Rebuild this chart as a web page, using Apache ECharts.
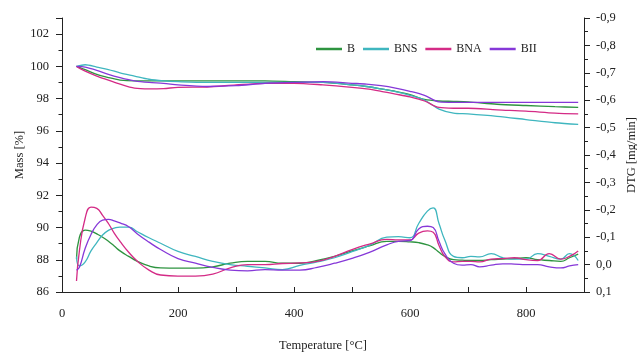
<!DOCTYPE html>
<html><head><meta charset="utf-8">
<script src="https://cdn.jsdelivr.net/npm/echarts@6/dist/echarts.min.js"></script>
<style>html,body{margin:0;padding:0;background:#fff}#c{width:637px;height:353px}</style>
</head><body><div id="c"></div>
<script>
// ---- data ----
const seriesNames = ['B', 'BNS', 'BNA', 'BII'];
const xTickLabels = [0, 200, 400, 600, 800];

// TG (mass %) temperature grid
const tgT = [25, 40, 60, 80, 100, 125, 150, 175, 200, 250, 300, 350, 400, 450, 500, 525, 550, 575, 600, 625, 650, 675, 700, 750, 800, 850, 890];
const tgB   = [100, 99.8, 99.5, 99.3, 99.15, 99.1, 99.1, 99.1, 99.1, 99.1, 99.1, 99.1, 99.05, 99.0, 98.85, 98.75, 98.6, 98.45, 98.25, 97.95, 97.85, 97.83, 97.8, 97.65, 97.57, 97.5, 97.45];
const tgBNS = [100, 100.1, 99.95, 99.8, 99.6, 99.4, 99.2, 99.1, 99.05, 99.0, 99.0, 99.0, 99.0, 99.0, 98.85, 98.75, 98.6, 98.43, 98.2, 97.9, 97.35, 97.1, 97.05, 96.9, 96.7, 96.5, 96.4];
const tgBNA = [100, 99.7, 99.4, 99.15, 98.9, 98.65, 98.6, 98.62, 98.7, 98.72, 98.85, 98.95, 98.95, 98.85, 98.7, 98.6, 98.45, 98.28, 98.1, 97.85, 97.45, 97.4, 97.4, 97.3, 97.22, 97.1, 97.05];
const tgBII = [100, 99.95, 99.75, 99.5, 99.3, 99.1, 99.0, 98.95, 98.85, 98.75, 98.8, 98.95, 99.0, 99.05, 98.95, 98.9, 98.8, 98.65, 98.45, 98.2, 97.8, 97.77, 97.77, 97.77, 97.77, 97.77, 97.77];

// DTG (mg/min) temperature grid
const dtgT = [25, 30, 40, 50, 60, 70, 80, 90, 100, 115, 130, 150, 170, 200, 230, 260, 290, 320, 350, 380, 410, 440, 470, 500, 530, 560, 580, 600, 615, 630, 640, 650, 660, 675, 690, 705, 720, 740, 760, 780, 800, 820, 840, 860, 875, 890];
const dtgB   = [-0.02, -0.10, -0.126, -0.122, -0.112, -0.10, -0.085, -0.068, -0.05, -0.03, -0.012, 0.005, 0.012, 0.013, 0.013, 0.008, -0.005, -0.012, -0.012, -0.005, -0.005, -0.015, -0.03, -0.05, -0.068, -0.085, -0.085, -0.083, -0.08, -0.072, -0.062, -0.045, -0.03, -0.018, -0.016, -0.015, -0.015, -0.018, -0.02, -0.022, -0.025, -0.018, -0.015, -0.012, -0.025, -0.038];
const dtgBNS = [-0.03, 0.005, -0.01, -0.05, -0.08, -0.108, -0.125, -0.133, -0.137, -0.137, -0.12, -0.098, -0.078, -0.048, -0.03, -0.012, 0.0, 0.006, 0.012, 0.018, 0.003, -0.01, -0.025, -0.047, -0.07, -0.1, -0.102, -0.098, -0.15, -0.195, -0.207, -0.15, -0.09, -0.03, -0.025, -0.03, -0.028, -0.04, -0.025, -0.02, -0.02, -0.04, -0.03, -0.02, -0.04, -0.015];
const dtgBNA = [0.06, -0.05, -0.17, -0.21, -0.205, -0.18, -0.15, -0.115, -0.085, -0.045, -0.012, 0.02, 0.038, 0.042, 0.042, 0.035, 0.012, 0.0, 0.0, -0.004, -0.006, -0.012, -0.03, -0.055, -0.075, -0.092, -0.09, -0.09, -0.115, -0.123, -0.118, -0.07, -0.03, -0.01, -0.012, -0.012, -0.01, -0.02, -0.022, -0.025, -0.018, -0.015, -0.04, -0.02, -0.03, -0.05];
const dtgBII = [0.02, 0.01, -0.06, -0.11, -0.145, -0.162, -0.165, -0.16, -0.152, -0.138, -0.112, -0.082, -0.055, -0.022, -0.005, 0.01, 0.02, 0.023, 0.018, 0.02, 0.02, 0.01, -0.005, -0.023, -0.045, -0.072, -0.085, -0.088, -0.13, -0.14, -0.135, -0.085, -0.04, -0.005, 0.002, 0.0, 0.008, 0.002, -0.003, -0.002, 0.0, 0.0, 0.008, 0.012, 0.005, 0.0];

// ---- build ----
const colors = ['#2e9440', '#3fb6bf', '#d42b86', '#8638d8'];
const tgAll = [tgB, tgBNS, tgBNA, tgBII];
const dtgAll = [dtgB, dtgBNS, dtgBNA, dtgBII];
const zip = (xs, ys) => xs.map((x, i) => [x, ys[i]]);
const FONT = 'Liberation Serif';
const series = [];
seriesNames.forEach((n, i) => {
  series.push({name: n, type: 'line', yAxisIndex: 0, data: zip(tgT, tgAll[i]), smooth: 0.3,
    showSymbol: false, lineStyle: {width: 1.3, color: colors[i]}, itemStyle: {color: colors[i]}});
});
seriesNames.forEach((n, i) => {
  series.push({name: n, type: 'line', yAxisIndex: 1, data: zip(dtgT, dtgAll[i]), smooth: 0.5,
    showSymbol: false, lineStyle: {width: 1.3, color: colors[i]}, itemStyle: {color: colors[i]}});
});

const chart = echarts.init(document.getElementById('c'), null, {renderer: 'canvas'});
const axisCommon = {
  axisLine: {show: true, onZero: false, lineStyle: {color: '#222', width: 1}},
  axisTick: {show: true, lineStyle: {color: '#222'}},
  splitLine: {show: false},
  nameMoveOverlap: false,
  axisLabel: {color: '#222', fontFamily: FONT, fontSize: 12.5},
  nameTextStyle: {color: '#222', fontFamily: FONT, fontSize: 12.5}
};
chart.setOption({
  animation: false,
  backgroundColor: '#fff',
  color: colors,
  grid: {left: 62, right: 53, top: 18, bottom: 61, containLabel: false, outerBoundsMode: 'none'},
  legend: {
    data: seriesNames, left: 311, top: 38, icon: 'rect', itemWidth: 26, itemHeight: 2.5, itemGap: 8,
    textStyle: {fontFamily: FONT, fontSize: 12, color: '#222'}
  },
  xAxis: Object.assign({}, axisCommon, {
    type: 'value', min: 0, max: 900, interval: 100,
    name: 'Temperature [°C]', nameLocation: 'middle', nameGap: 47,
    axisTick: {show: true, inside: true, length: 5, lineStyle: {color: '#222'}},
    axisLabel: Object.assign({}, axisCommon.axisLabel, {margin: 15,
      formatter: v => xTickLabels.indexOf(v) >= 0 ? String(v) : ''})
  }),
  yAxis: [
    Object.assign({}, axisCommon, {
      type: 'value', position: 'left', min: 86, max: 103, interval: 2,
      name: 'Mass [%]', nameLocation: 'middle', nameGap: 36, nameRotate: 90,
      axisTick: {show: true, length: 6, lineStyle: {color: '#222'}},
      minorTick: {show: true, splitNumber: 2, length: 3.5, lineStyle: {color: '#222'}},
      axisLabel: Object.assign({}, axisCommon.axisLabel, {margin: 13,
        formatter: v => (v % 2 === 0 ? String(v) : '')})
    }),
    Object.assign({}, axisCommon, {
      type: 'value', position: 'right', min: -0.9, max: 0.1, interval: 0.1, inverse: true,
      name: 'DTG [mg/min]', nameLocation: 'middle', nameGap: 41, nameRotate: 90,
      axisTick: {show: true, length: 6, lineStyle: {color: '#222'}},
      minorTick: {show: true, splitNumber: 2, length: 4, lineStyle: {color: '#222'}},
      axisLabel: Object.assign({}, axisCommon.axisLabel, {margin: 12,
        formatter: v => (Math.abs(v) < 1e-9 ? 0 : v).toFixed(1).replace('.', ',')})
    })
  ],
  series: series
});
</script></body></html>
